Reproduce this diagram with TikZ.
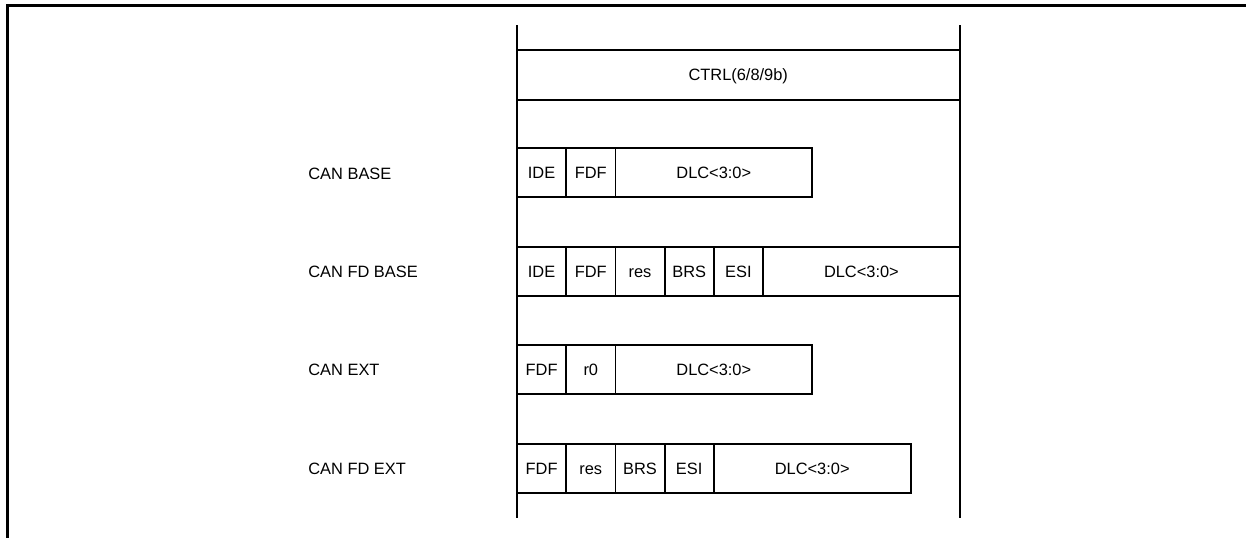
\documentclass[tikz,border=0pt]{standalone}
\usepackage{fontspec}
\setmainfont{Liberation Sans}
\usetikzlibrary{positioning}
\tikzset{
	fld/.style={draw, line width=0.9pt, minimum width=24.6pt, minimum height=24.6pt, inner sep=0pt, outer sep=0pt, text height=5.9pt, text depth=0pt, font=\fontsize{8.2}{9.8}\selectfont},
	dlc/.style={fld, minimum width=98.4pt},
	lbl/.style={anchor=west, inner sep=0pt, text height=5.9pt, text depth=0pt, font=\fontsize{8.2}{9.8}\selectfont}
}
\begin{document}
\begin{tikzpicture}[x=0.5pt, y=-0.5pt]
	\useasboundingbox (0,0) rectangle (1246,537);
	\draw[line width=1.5pt] (7,545) -- (7,5) -- (1255,5);
	\coordinate (lt) at (517,25); \coordinate (lb) at (517,518);
	\coordinate (rt) at (959.5,25); \coordinate (rb) at (959.5,518);
	\draw[line width=1pt] (lt) -- (lb) (rt) -- (rb);
	\node[fld, minimum width=221.25pt, minimum height=25pt, anchor=north west] (ctrl) at (517,50) {CTRL(6/8/9b)};
	% CAN BASE
	\node[lbl] (lbase) at (308,174) {CAN BASE};
	\node[fld, anchor=north west] (b1) at (517,148) {IDE};
	\node[fld, right=0pt of b1] (b2) {FDF};
	\node[dlc, right=0pt of b2] (b3) {DLC<3:0>};
	% CAN FD BASE
	\node[lbl] (lfdbase) at (308,272) {CAN FD BASE};
	\node[fld, anchor=north west] (fb1) at (517,247) {IDE};
	\node[fld, right=0pt of fb1] (fb2) {FDF};
	\node[fld, right=0pt of fb2] (fb3) {res};
	\node[fld, right=0pt of fb3] (fb4) {BRS};
	\node[fld, right=0pt of fb4] (fb5) {ESI};
	\node[dlc, right=0pt of fb5] (fb6) {DLC<3:0>};
	% CAN EXT
	\node[lbl] (lext) at (308,370) {CAN EXT};
	\node[fld, anchor=north west] (e1) at (517,345) {FDF};
	\node[fld, right=0pt of e1] (e2) {r0};
	\node[dlc, right=0pt of e2] (e3) {DLC<3:0>};
	% CAN FD EXT
	\node[lbl] (lfdext) at (308,469) {CAN FD EXT};
	\node[fld, anchor=north west] (fe1) at (517,444) {FDF};
	\node[fld, right=0pt of fe1] (fe2) {res};
	\node[fld, right=0pt of fe2] (fe3) {BRS};
	\node[fld, right=0pt of fe3] (fe4) {ESI};
	\node[dlc, right=0pt of fe4] (fe5) {DLC<3:0>};
\end{tikzpicture}
\end{document}
